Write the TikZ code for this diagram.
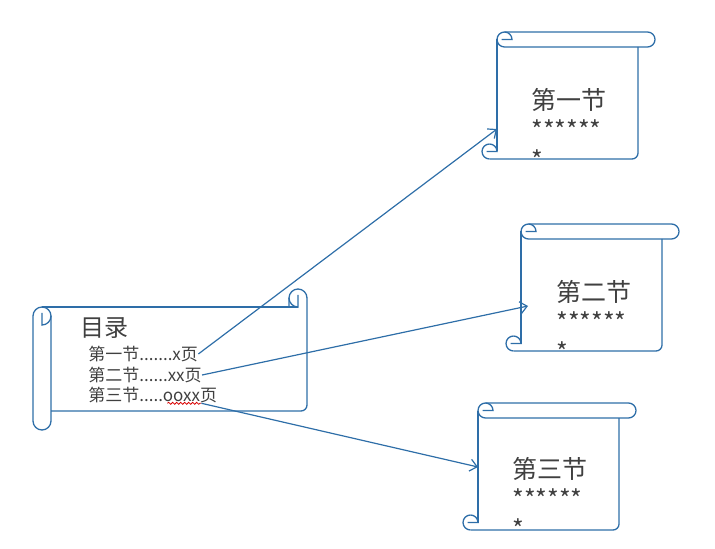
\documentclass[tikz,border=0pt]{standalone}
\usepackage{fontspec}
\setmainfont{Noto Sans CJK SC}
\usetikzlibrary{arrows.meta, decorations.pathmorphing}

\definecolor{scrollblue}{RGB}{46,110,168}
\definecolor{inkgray}{RGB}{64,64,64}

\begin{document}
\begin{tikzpicture}[
        x=0.5pt, y=-0.5pt,
        rim/.style={draw=scrollblue, line width=0.65pt},
        arrow/.style={-{Straight Barb[length=3.5pt, width=6pt]}, draw=scrollblue, line width=0.6pt},
        wavy/.style={draw=red!85!black, line width=0.4pt, decorate, decoration={snake, segment length=2pt, amplitude=0.5pt}},
        toctitle/.style={anchor=west, inner sep=0pt, text=inkgray, font=\fontsize{12}{14}\selectfont},
        tocline/.style={anchor=west, inner sep=0pt, text=inkgray, font=\fontsize{8.5}{10}\selectfont},
        sectxt/.style={anchor=north west, inner sep=0pt, align=left, text=inkgray, font=\fontsize{12.5}{15}\selectfont},
        vscroll/.pic={
            \draw[rim, rounded corners=3.75pt] (0,0) rectangle (158,15);
            \draw[rim] (7.5,0) arc[start angle=90, end angle=0, radius=3.75pt] -- (4.5,7.5);
            \draw[rim] (0,7.5) -- (0,119.5);
            \draw[rim, rounded corners=3pt] (-7.5,127) -- (141,127) -- (141,15);
            \draw[rim] (-7.5,112) arc[start angle=90, end angle=270, radius=3.75pt];
            \draw[rim] (-7.5,112) arc[start angle=90, end angle=0, radius=3.75pt] -- (-10.5,119.5);
        }
    ]
        \useasboundingbox (0,0) rectangle (715,549);

        % Contents scroll
        \draw[rim, rounded corners=4.5pt] (33,307) rectangle (51,430);
        \draw[rim] (51,316) arc[start angle=0, end angle=-90, radius=4.5pt] -- (42,313);
        \draw[rim] (42,307) -- (298,307);
        \draw[rim] (289,307) -- (289,298) arc[start angle=180, end angle=0, radius=4.5pt];
        \draw[rim] (289,298) arc[start angle=180, end angle=270, radius=4.5pt] -- (298,295);
        \draw[rim, rounded corners=3pt] (307,298) -- (307,411) -- (51,411);

        \node[toctitle] (toc) at (80,328) {目录};
        \node[tocline] (l1) at (88,354) {第一节.......x页};
        \node[tocline] (l2) at (88,375) {第二节......xx页};
        \node[tocline] (l3) at (88,395) {第三节.....ooxx页};

        % Section scrolls
        \pic at (497,32) {vscroll};
        \pic at (521,224) {vscroll};
        \pic at (478,403) {vscroll};

        \node[sectxt] (sec1) at (531,88) {第一节\\******\\*};
        \node[sectxt] (sec2) at (556,280) {第二节\\******\\*};
        \node[sectxt] (sec3) at (512,457) {第三节\\******\\*};

        % Arrows
        \coordinate (in1) at (497,129);
        \coordinate (in2) at (528,306);
        \coordinate (in3) at (478,467);
        \coordinate (ul) at ([xshift=-8pt]l3.south east);
        \draw[wavy] ([xshift=-25pt]l3.south east) -- (ul);

        \draw[arrow] (l1.east) -- (in1);
        \draw[arrow] (l2.east) -- (in2);
        \draw[arrow] (ul) -- (in3);
    \end{tikzpicture}
\end{document}
